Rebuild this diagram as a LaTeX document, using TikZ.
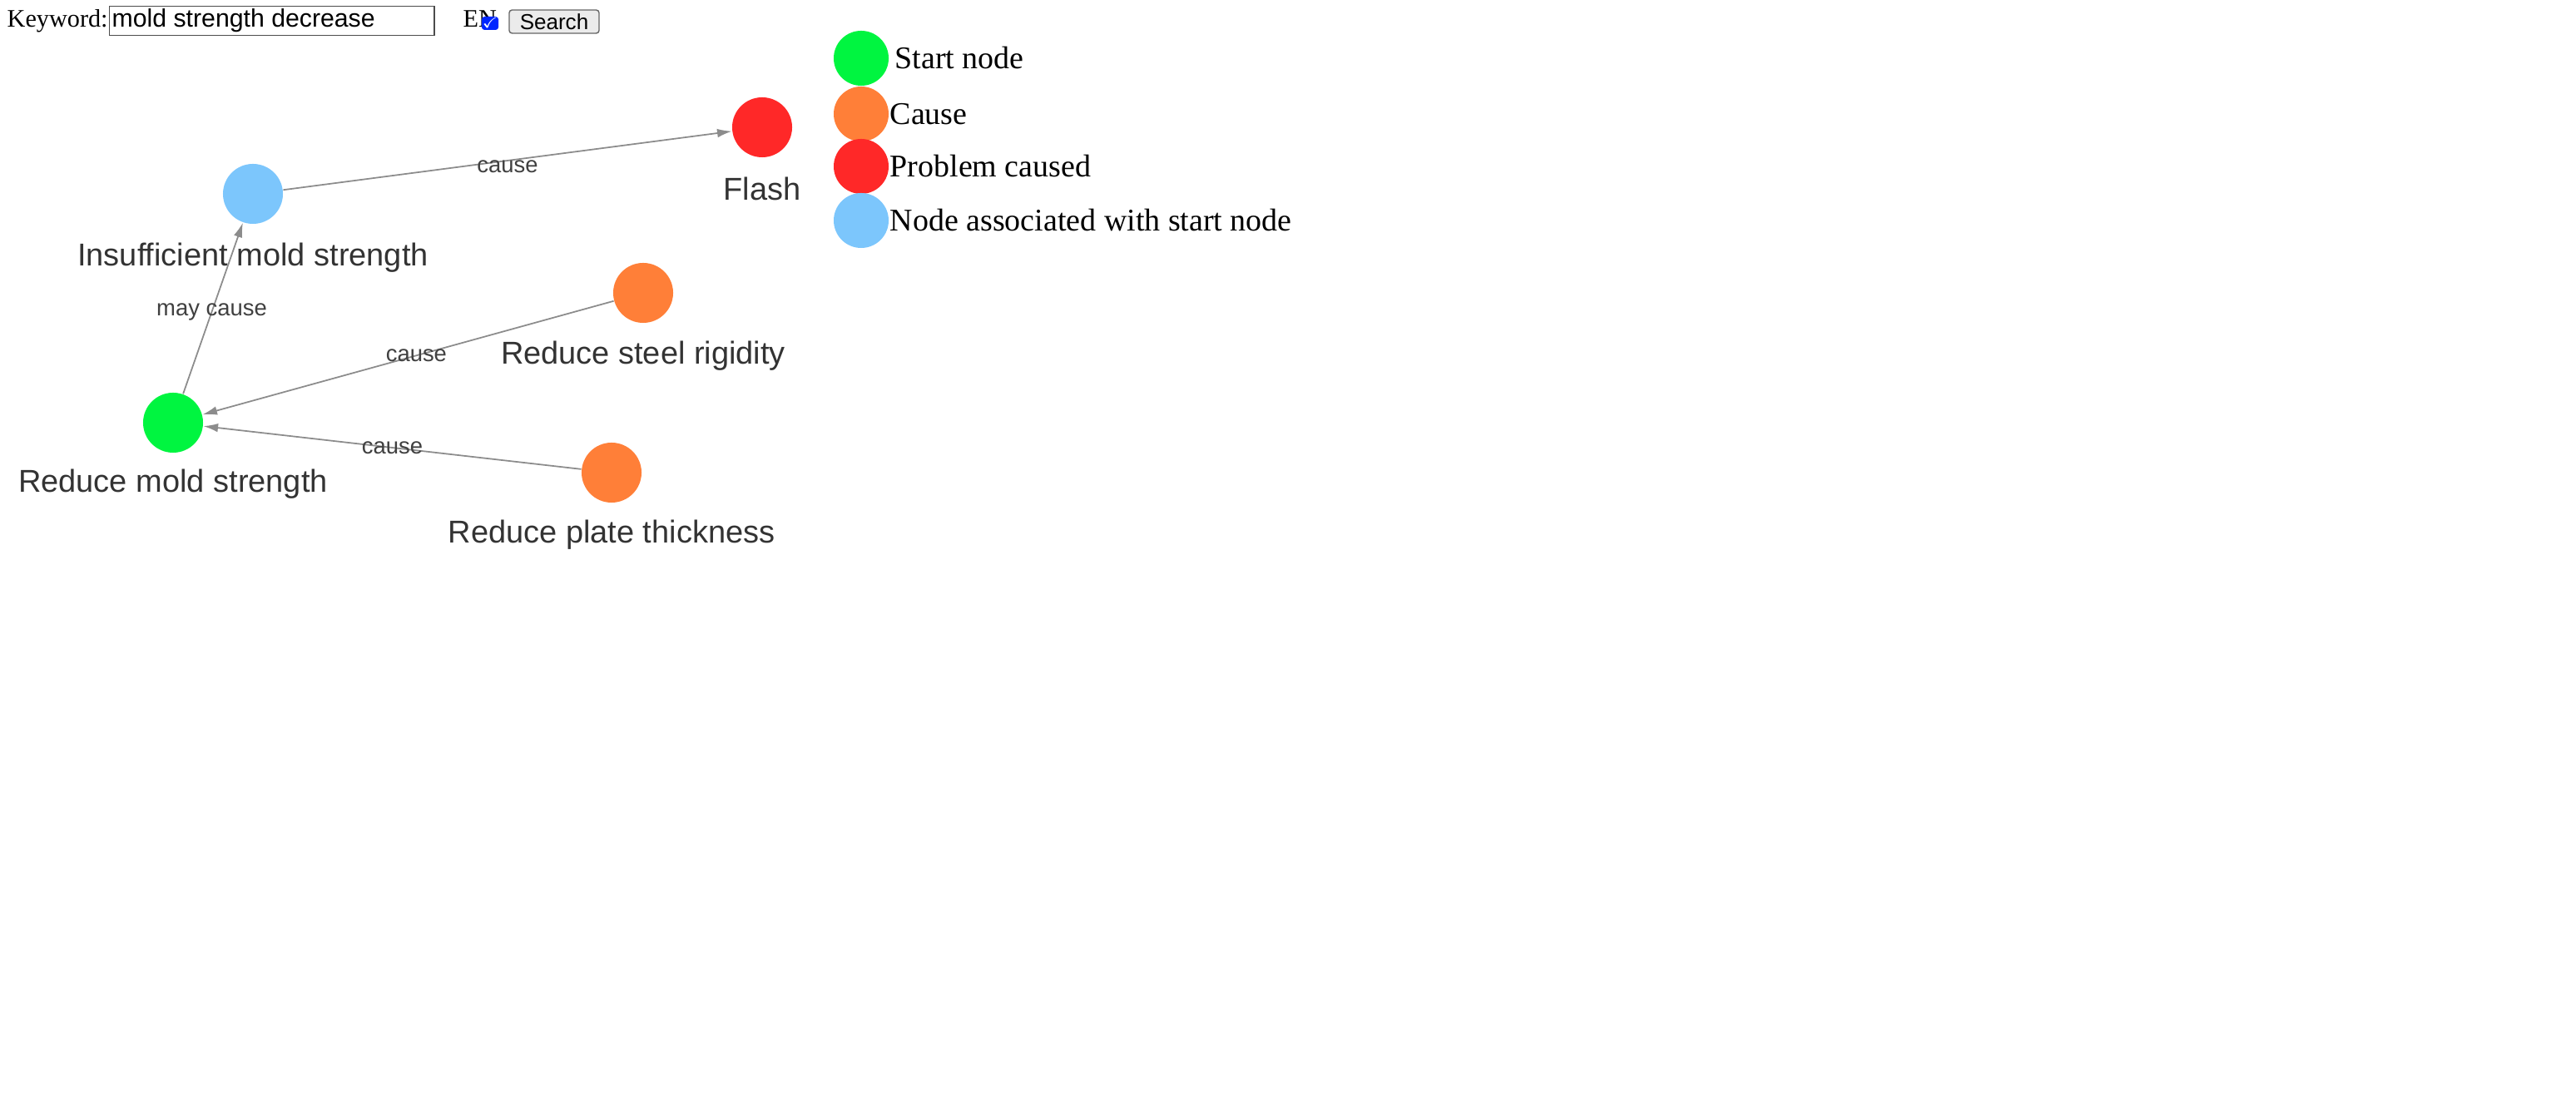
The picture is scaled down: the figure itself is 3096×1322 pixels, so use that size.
\documentclass[tikz,border=0pt]{standalone}
\usepackage{amssymb}
\usepackage{fontspec}
\setmainfont{Liberation Serif}
\newfontfamily\arial{Liberation Sans}
\usetikzlibrary{arrows.meta}
\definecolor{startgreen}{RGB}{0,245,64}
\definecolor{causeorange}{RGB}{255,127,56}
\definecolor{probred}{RGB}{255,40,40}
\definecolor{assocblue}{RGB}{124,198,252}
\begin{document}
\begin{tikzpicture}[x=0.01cm, y=-0.01cm,
        dot/.style={circle, minimum size=0.72cm, inner sep=0pt},
        nodelbl/.style={font=\arial\fontsize{10.8}{12}\selectfont, text=black!80},
        legend/.style={font=\fontsize{10.8}{12}\selectfont, anchor=west, inner sep=0pt},
        rel/.style={font=\arial\fontsize{7.8}{9}\selectfont, text=black!75, inner sep=1pt},
        arrow/.style={-{Latex[length=5pt,width=3pt]}, draw=black!45, line width=0.5pt}
    ]
        \useasboundingbox (0,0) rectangle (3096,1322);

        % Search bar
        \node[anchor=west, inner sep=0pt, font=\fontsize{8.6}{10}\selectfont] (kw) at (8,25) {Keyword:};
        \node[draw=black!70, minimum width=3.9cm, minimum height=0.35cm, anchor=west, inner sep=0pt] (box) at (131,25) {};
        \node[anchor=west, font=\arial\fontsize{8.6}{10}\selectfont, inner sep=0pt] (query) at (134,25) {mold strength decrease};
        \node[anchor=west, inner sep=0pt, font=\fontsize{8.6}{10}\selectfont] (en) at (556,23) {EN};
        \node[fill=blue!85!cyan, rounded corners=1pt, minimum size=0.16cm, inner sep=0pt, text=white,
            font=\tiny] (check) at (589,28) {$\checkmark$};
        \node[draw=black!60, fill=black!8, rounded corners=1pt, minimum width=1.08cm, minimum height=0.28cm,
            inner sep=0pt, font=\arial\fontsize{7.4}{9}\selectfont] (search) at (666,26) {Search};

        % Graph nodes
        \node[dot, fill=probred] (flash) at (916,153) {};
        \node[dot, fill=assocblue] (insuff) at (304,233) {};
        \node[dot, fill=causeorange] (steel) at (773,352) {};
        \node[dot, fill=startgreen] (start) at (208,508) {};
        \node[dot, fill=causeorange] (plate) at (735,568) {};

        \node[nodelbl] (flashlbl) at (916,227) {Flash};
        \node[nodelbl] (insufflbl) at (304,310) {Insufficient mold strength};
        \node[nodelbl] (steellbl) at (773,428) {Reduce steel rigidity};
        \node[nodelbl] (startlbl) at (208,582) {Reduce mold strength};
        \node[nodelbl] (platelbl) at (735,643) {Reduce plate thickness};

        % Relations
        \draw[arrow] (insuff) -- (flash) node[rel, pos=0.5, yshift=-0.07cm] {cause};
        \draw[arrow] (start) -- (insuff) node[rel, pos=0.48] {may cause};
        \draw[arrow] (steel) -- (start) node[rel, pos=0.48] {cause};
        \draw[arrow] (plate) -- (start) node[rel, pos=0.5] {cause};

        % Legend
        \node[dot, minimum size=0.66cm, fill=startgreen] (lgstart) at (1035,70) {};
        \node[dot, minimum size=0.66cm, fill=causeorange] (lgcause) at (1035,137) {};
        \node[dot, minimum size=0.66cm, fill=probred] (lgprob) at (1035,200) {};
        \node[dot, minimum size=0.66cm, fill=assocblue] (lgassoc) at (1035,265) {};
        \node[legend] at (1075,70) {Start node};
        \node[legend] at (1069,137) {Cause};
        \node[legend] at (1069,200) {Problem caused};
        \node[legend] at (1069,265) {Node associated with start node};
    \end{tikzpicture}
\end{document}
